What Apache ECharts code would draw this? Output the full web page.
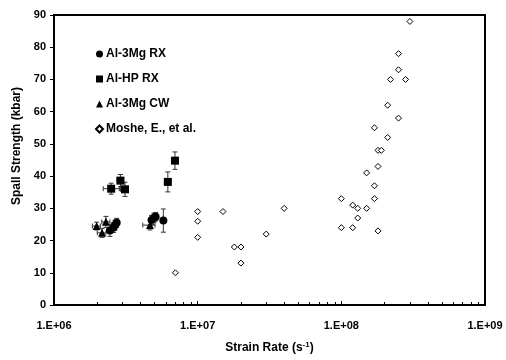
<!DOCTYPE html>
<html>
<head>
<meta charset="utf-8">
<script src="https://cdn.jsdelivr.net/npm/echarts@6/dist/echarts.min.js"></script>
<style>
  html, body { margin: 0; padding: 0; background: #fff; }
  #container { width: 506px; height: 360px; }
</style>
</head>
<body>
<div id="container"></div>
<script>
// [strain rate, spall strength, rate low, rate high, strength error]
const al3mgRX = [
  [2.45e6, 23.1, 2.35e6, 2.55e6, 1.8],
  [2.59e6, 24.0, 2.5e6, 2.7e6, 1.5],
  [2.66e6, 24.8, 2.55e6, 2.78e6, 1.5],
  [2.73e6, 25.5, 2.62e6, 2.85e6, 1.4],
  [4.78e6, 26.4, 4.6e6, 4.95e6, 1.4],
  [4.97e6, 27.1, 4.8e6, 5.15e6, 1.4],
  [5.1e6, 27.4, 4.95e6, 5.25e6, 1.3],
  [5.77e6, 26.2, 5.77e6, 5.77e6, 3.6]
]
const alHpRX = [
  [2.5e6, 36.1, 2.2e6, 2.85e6, 1.7],
  [2.9e6, 38.6, 2.75e6, 3.05e6, 1.9],
  [3.12e6, 35.9, 2.9e6, 3.3e6, 2.2],
  [6.2e6, 38.2, 6.2e6, 6.2e6, 3.1],
  [6.95e6, 44.8, 6.95e6, 6.95e6, 2.7]
]
const al3mgCW = [
  [1.98e6, 24.5, 1.85e6, 2.1e6, 1.2],
  [2.3e6, 25.8, 2.15e6, 2.45e6, 1.7],
  [2.16e6, 22.4, 2.0e6, 2.3e6, 1.4],
  [4.66e6, 24.8, 4.15e6, 5.05e6, 1.5]
]
const moshe = [
  [7e6, 10], [1e7, 29], [1e7, 26], [1e7, 21], [1.5e7, 29], [1.8e7, 18],
  [2e7, 18], [2e7, 13], [3e7, 22], [4e7, 30], [1e8, 33], [1e8, 24],
  [1.2e8, 31], [1.2e8, 24], [1.3e8, 30], [1.3e8, 27], [1.5e8, 30],
  [1.5e8, 41], [1.7e8, 37], [1.7e8, 33], [1.7e8, 55], [1.8e8, 23],
  [1.8e8, 48], [1.9e8, 48], [1.8e8, 43], [2.1e8, 62], [2.1e8, 52],
  [2.2e8, 70], [2.5e8, 58], [2.5e8, 73], [2.5e8, 78], [2.8e8, 70], [3e8, 88]
]
const minorTicks = [2, 3, 4, 5, 6, 7, 8, 9].flatMap(m => [m * 1e6, m * 1e7, m * 1e8])

const myChart = echarts.init(document.getElementById('container'))

const labelFont = { color: '#000', fontFamily: 'Liberation Sans, Arial', fontWeight: 'bold', fontSize: 11 }

function errorBars(name, data) {
  return {
    type: 'custom',
    name: name + ' err',
    silent: true,
    z: 1,
    encode: { x: 0, y: 1 },
    data: data,
    renderItem: function (params, api) {
      const x = api.value(0), y = api.value(1)
      const e = api.value(4)
      const top = api.coord([x, y + e]), bot = api.coord([x, y - e])
      const left = api.coord([api.value(2), y]), right = api.coord([api.value(3), y])
      const cap = 2.5
      const st = { stroke: '#333', lineWidth: 1 }
      const kids = [
        { type: 'line', shape: { x1: top[0], y1: top[1], x2: bot[0], y2: bot[1] }, style: st },
        { type: 'line', shape: { x1: top[0] - cap, y1: top[1], x2: top[0] + cap, y2: top[1] }, style: st },
        { type: 'line', shape: { x1: bot[0] - cap, y1: bot[1], x2: bot[0] + cap, y2: bot[1] }, style: st }
      ]
      if (right[0] - left[0] > 1) {
        kids.push(
          { type: 'line', shape: { x1: left[0], y1: left[1], x2: right[0], y2: right[1] }, style: st },
          { type: 'line', shape: { x1: left[0], y1: left[1] - cap, x2: left[0], y2: left[1] + cap }, style: st },
          { type: 'line', shape: { x1: right[0], y1: right[1] - cap, x2: right[0], y2: right[1] + cap }, style: st }
        )
      }
      return { type: 'group', children: kids }
    }
  }
}

const option = {
  backgroundColor: '#fff',
  animation: false,
  grid: {
    left: 54, right: 21, top: 15, bottom: 55,
    show: true, borderColor: '#000', borderWidth: 2, backgroundColor: 'transparent'
  },
  legend: {
    data: ['Al-3Mg RX', 'Al-HP RX', 'Al-3Mg CW', 'Moshe, E., et al.'],
    orient: 'vertical',
    left: 90,
    top: 43,
    itemWidth: 7,
    itemHeight: 7,
    itemGap: 13,
    selectedMode: false,
    textStyle: { color: '#000', fontFamily: 'Liberation Sans, Arial', fontWeight: 'bold', fontSize: 12, padding: [0, 0, 0, -2] }
  },
  xAxis: [
    {
      type: 'log',
      logBase: 10,
      min: 1e6,
      max: 1e9,
      name: 'Strain Rate (s{sup|-1})',
      nameLocation: 'middle',
      nameGap: 36,
      nameTextStyle: {
        color: '#000', fontFamily: 'Liberation Sans, Arial', fontWeight: 'bold', fontSize: 12,
        rich: { sup: { fontSize: 8, fontWeight: 'bold', fontFamily: 'Liberation Sans, Arial', verticalAlign: 'top', padding: [0, 0, 6, 0] } }
      },
      axisLine: { show: true, lineStyle: { color: '#000', width: 2 } },
      axisTick: { show: true, inside: true, length: 4, lineStyle: { color: '#000' } },
      axisLabel: Object.assign({ margin: 15, formatter: v => '1.E+' + String(Math.round(Math.log10(v))).padStart(2, '0') }, labelFont),
      splitLine: { show: false }
    },
    {
      type: 'log',
      logBase: 10,
      min: 1e6,
      max: 1e9,
      position: 'bottom',
      axisLine: { show: false },
      axisLabel: { show: false },
      axisTick: { show: true, inside: true, length: 3, customValues: minorTicks, lineStyle: { color: '#000' } },
      splitLine: { show: false }
    }
  ],
  yAxis: {
    type: 'value',
    min: 0,
    max: 90,
    interval: 10,
    name: 'Spall Strength (kbar)',
    nameLocation: 'middle',
    nameGap: 30,
    nameTextStyle: { color: '#000', fontFamily: 'Liberation Sans, Arial', fontWeight: 'bold', fontSize: 12, padding: [0, 0, 0, 28] },
    axisLine: { show: true, lineStyle: { color: '#000', width: 2 } },
    axisTick: { show: true, inside: false, length: 4, lineStyle: { color: '#000' } },
    axisLabel: Object.assign({ margin: 8 }, labelFont),
    splitLine: { show: false }
  },
  series: [
    errorBars('Al-3Mg RX', al3mgRX),
    errorBars('Al-HP RX', alHpRX),
    errorBars('Al-3Mg CW', al3mgCW),
    {
      name: 'Al-3Mg RX', type: 'scatter', symbol: 'circle', symbolSize: 8, z: 3,
      itemStyle: { color: '#000', opacity: 1 }, data: al3mgRX.map(d => [d[0], d[1]])
    },
    {
      name: 'Al-HP RX', type: 'scatter', symbol: 'rect', symbolSize: 8, z: 3,
      itemStyle: { color: '#000', opacity: 1 }, data: alHpRX.map(d => [d[0], d[1]])
    },
    {
      name: 'Al-3Mg CW', type: 'scatter', symbol: 'triangle', symbolSize: 8, z: 3,
      itemStyle: { color: '#000', opacity: 1 }, data: al3mgCW.map(d => [d[0], d[1]])
    },
    {
      name: 'Moshe, E., et al.', type: 'scatter', symbol: 'diamond', symbolSize: 6, z: 3,
      itemStyle: { color: '#fff', borderColor: '#000', borderWidth: 1, opacity: 1 }, data: moshe
    }
  ]
}

myChart.setOption(option)
</script>
</body>
</html>
